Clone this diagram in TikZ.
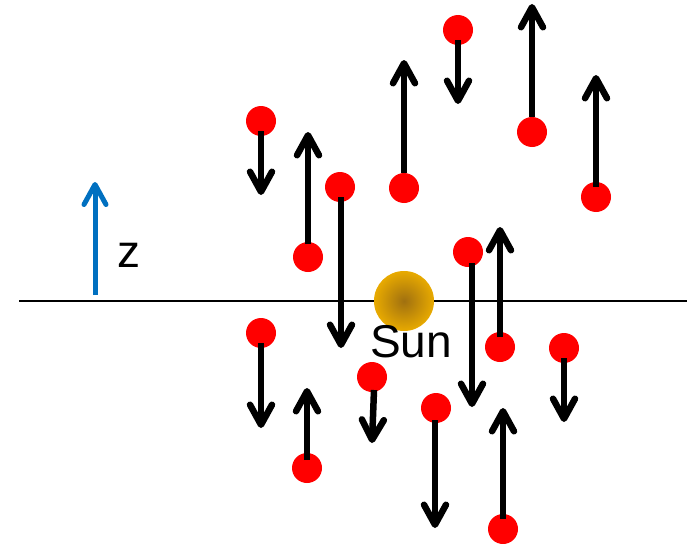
\documentclass[tikz,border=0pt]{standalone}
\usepackage{fontspec}
\setmainfont{Liberation Sans}
\usetikzlibrary{arrows.meta}
\definecolor{ballred}{RGB}{255,0,0}
\definecolor{zblue}{RGB}{0,112,192}
\definecolor{sungold}{RGB}{232,170,0}
\definecolor{sundark}{RGB}{160,112,16}
\begin{document}
\begin{tikzpicture}[x=1pt,y=-1pt,
  ball/.style={circle,fill=ballred,draw=none,minimum size=30pt,inner sep=0pt},
  vel/.style={line width=6.5pt,-{Straight Barb[length=20pt,width=22pt,line cap=round,line join=round]}},
  lbl/.style={font=\fontsize{46}{50}\selectfont,inner sep=0pt}]
\useasboundingbox (0,0) rectangle (687,543);
% plane
\draw[line width=2.5pt] (19,301) -- (687,301);
% z axis
\coordinate (zs) at (95,295);
\coordinate (zt) at (95,182);
\draw[line width=5pt,zblue,-{Straight Barb[length=20pt,width=22pt,line cap=round,line join=round]}] (zs) -- (zt);
\node[lbl,anchor=base west] (zl) at (117,267) {z};
% Sun
\node[circle,minimum size=60pt,inner sep=0pt,inner color=sundark,outer color=sungold] (sun) at (404,301) {};
\node[lbl,anchor=base] (sunl) at (411,357) {Sun};
% particles
\node[ball] (A) at (261,121) {};
\node[ball] (B) at (308,257) {};
\node[ball] (C) at (340,187) {};
\node[ball] (D) at (404,188) {};
\node[ball] (E) at (458,30) {};
\node[ball] (F) at (532,132) {};
\node[ball] (G) at (596,197) {};
\node[ball] (H) at (468,252) {};
\node[ball] (I) at (500,347) {};
\node[ball] (J) at (564,348) {};
\node[ball] (K) at (503,529) {};
\node[ball] (L) at (261,333) {};
\node[ball] (M) at (307,468) {};
\node[ball] (N) at (372,377) {};
\node[ball] (O) at (436,408) {};
% velocity targets
\coordinate (At) at (261,195);
\coordinate (Bt) at (308,132);
\coordinate (Ct) at (341,348);
\coordinate (Dt) at (404,60);
\coordinate (Et) at (458,104);
\coordinate (Ft) at (532,4);
\coordinate (Gt) at (596,75);
\coordinate (Ht) at (472,407);
\coordinate (It) at (500,227);
\coordinate (Jt) at (564,422);
\coordinate (Kt) at (503,408);
\coordinate (Lt) at (261,428);
\coordinate (Mt) at (307,388);
\coordinate (Nt) at (372,443);
\coordinate (Ot) at (435,528);
% velocity arrows (yshift is in canvas units: negative = downward)
\draw[vel] ([yshift=-10pt]A.center) -- (At);
\draw[vel] ([yshift=13pt]B.center) -- (Bt);
\draw[vel] ([xshift=1pt,yshift=-10pt]C.center) -- (Ct);
\draw[vel] ([yshift=15pt]D.center) -- (Dt);
\draw[vel] ([yshift=-10pt]E.center) -- (Et);
\draw[vel] ([yshift=15pt]F.center) -- (Ft);
\draw[vel] ([yshift=10pt]G.center) -- (Gt);
\draw[vel] ([xshift=4pt,yshift=-11pt]H.center) -- (Ht);
\draw[vel] ([yshift=10pt]I.center) -- (It);
\draw[vel] ([yshift=-10pt]J.center) -- (Jt);
\draw[vel] ([yshift=10pt]K.center) -- (Kt);
\draw[vel] ([yshift=-10pt]L.center) -- (Lt);
\draw[vel] ([yshift=8pt]M.center) -- (Mt);
\draw[vel] ([xshift=2pt,yshift=-13pt]N.center) -- (Nt);
\draw[vel] ([xshift=-1pt,yshift=-12pt]O.center) -- (Ot);
\end{tikzpicture}
\end{document}
